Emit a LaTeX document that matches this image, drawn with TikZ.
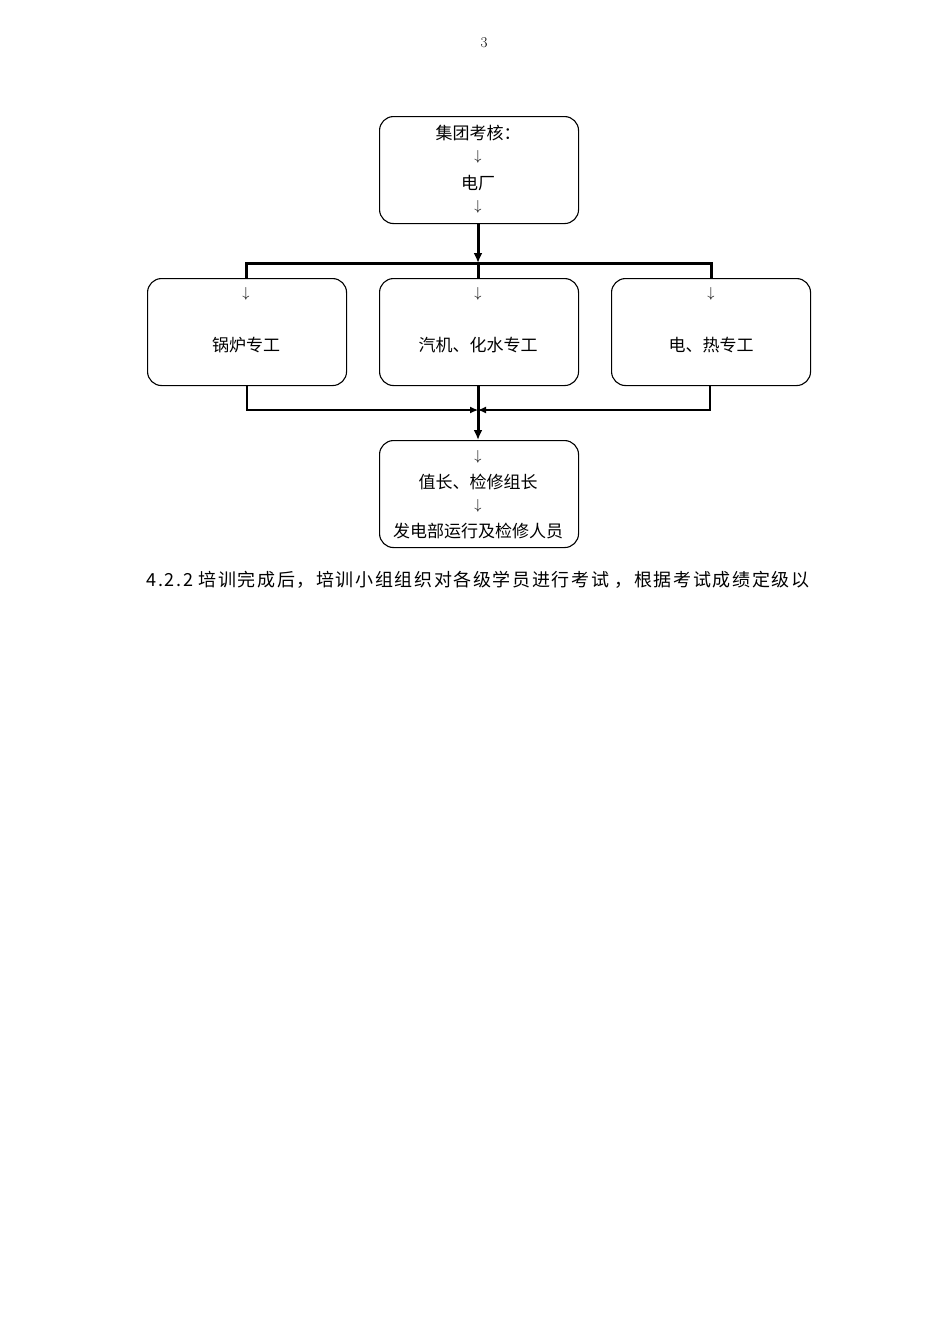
\documentclass[tikz,border=0pt]{standalone}
\usepackage{fontspec}
\usetikzlibrary{arrows.meta}
\newfontfamily\cjk{Noto Sans CJK SC}
\newfontfamily\cjksp[LetterSpace=9]{Noto Sans CJK SC}
\begin{document}
\begin{tikzpicture}[x=1pt,y=-1pt,
  box/.style={draw,rounded corners=14pt,line width=1.1pt,minimum width=199pt,minimum height=107pt,anchor=north west,inner sep=0},
  txt/.style={font=\cjk\fontsize{17}{20}\selectfont},
  sm/.style={font=\fontsize{15}{16}\selectfont},
  thick1/.style={line width=3pt},
  thin1/.style={line width=1.2pt}]
\useasboundingbox[fill=white] (0,0) rectangle (950,1344);
\node[sm] (pg) at (484,43) {3};
\node[box] (top) at (379,116) {};
\node[box] (bl) at (147,278) {};
\node[box] (bm) at (379,278) {};
\node[box] (br) at (611,278) {};
\node[box] (bot) at (379,440) {};
\node[txt] (t1) at (478,133) {集团考核：};
\node[sm] (a1) at (478,157) {$\downarrow$};
\node[txt] (t2) at (478,183) {电厂};
\node[sm] (a2) at (478,207) {$\downarrow$};
\node[sm] (a3) at (246,294) {$\downarrow$};
\node[sm] (a4) at (478,294) {$\downarrow$};
\node[sm] (a5) at (711,294) {$\downarrow$};
\node[txt] (l1) at (246,345) {锅炉专工};
\node[txt] (l2) at (478,345) {汽机、化水专工};
\node[txt] (l3) at (711,345) {电、热专工};
\node[sm] (a6) at (478,457) {$\downarrow$};
\node[txt] (b1) at (478,482) {值长、检修组长};
\node[sm] (a7) at (478,506) {$\downarrow$};
\node[txt] (b2) at (478,531) {发电部运行及检修人员};
\coordinate (j) at (478,263);
\coordinate (jl) at (246,263);
\coordinate (jr) at (711,263);
\coordinate (k) at (478,410);
\coordinate (kl) at (247,410);
\coordinate (kr) at (710,410);
\draw[thick1,-{Latex[length=10pt,width=9pt]}] (j |- top.south) -- (j);
\draw[thick1] (jl |- bl.north) -- (jl) -- (jr) -- (jr |- br.north);
\draw[thick1] (j) -- (j |- bm.north);
\draw[thick1,-{Latex[length=10pt,width=9pt]}] (j |- bm.south) -- (j |- bot.north);
\draw[thin1,-{Latex[length=8pt,width=7pt]}] (kl |- bl.south) -- (kl) -- (k);
\draw[thin1,-{Latex[length=8pt,width=7pt]}] (kr |- br.south) -- (kr) -- (k);
\node[anchor=west,font=\cjksp\fontsize{18}{20}\selectfont] (para) at (143,580) {4.2.2 培训完成后，培训小组组织对各级学员进行考试 ，根据考试成绩定级以};
\end{tikzpicture}
\end{document}
